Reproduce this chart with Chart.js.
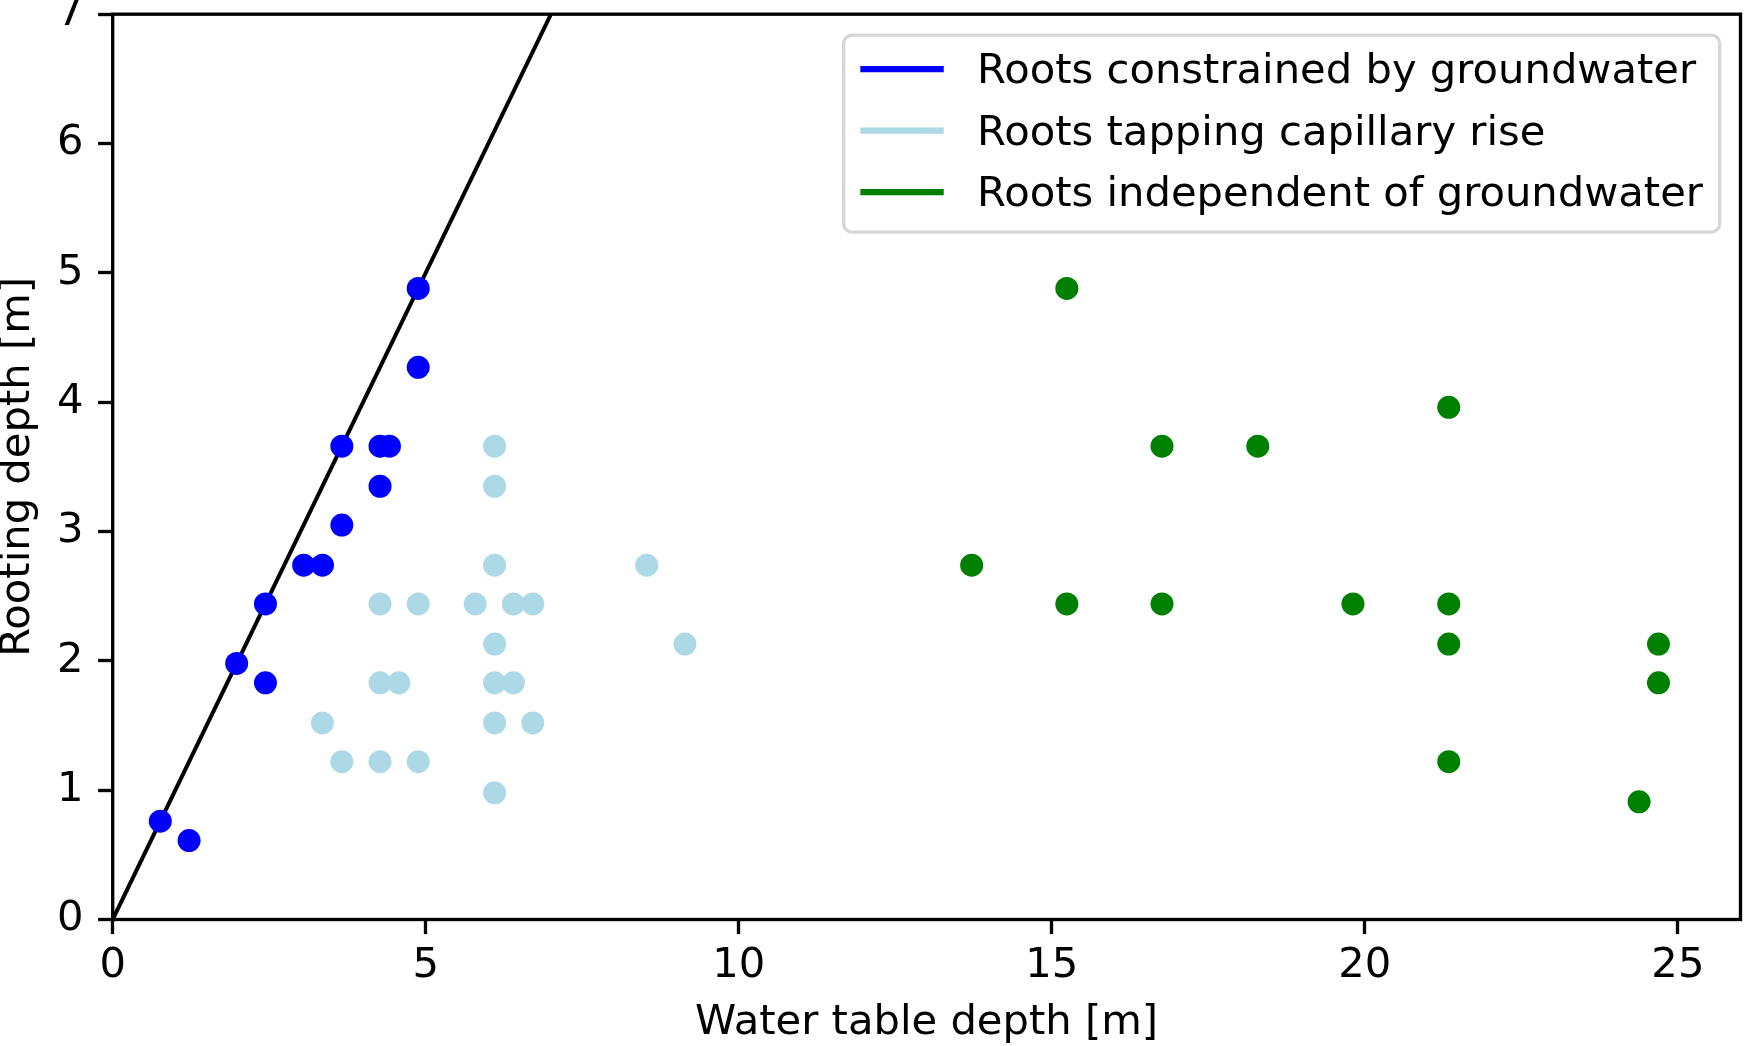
<!DOCTYPE html>
<html>
<head>
<meta charset="utf-8">
<script src="https://cdn.jsdelivr.net/npm/chart.js@4.4.1/dist/chart.umd.min.js"></script>
<style>
  html, body { margin: 0; padding: 0; background: #fff; overflow: hidden; }
  #wrap { width: 1744px; height: 1046px; overflow: hidden; }
  #roots-chart { display: block; }
</style>
</head>
<body>
<div id="wrap"><canvas id="roots-chart" width="1744" height="1046"></canvas></div>
<script>
// water table depth (x) vs rooting depth (y), both in metres
const constrainedX = [0.76, 1.22, 1.98, 2.44, 2.44, 3.05, 3.35, 3.66, 3.66, 4.27, 4.42, 4.27, 4.88, 4.88];
const constrainedY = [0.76, 0.61, 1.98, 2.44, 1.83, 2.74, 2.74, 3.05, 3.66, 3.66, 3.66, 3.35, 4.27, 4.88];

const capillaryX = [6.10, 6.10, 6.10, 8.53, 4.27, 4.88, 5.79, 6.40, 6.71, 6.10, 9.14,
  4.27, 4.57, 6.10, 6.40, 3.35, 6.10, 6.71, 3.66, 4.27, 4.88, 6.10];
const capillaryY = [3.66, 3.35, 2.74, 2.74, 2.44, 2.44, 2.44, 2.44, 2.44, 2.13, 2.13,
  1.83, 1.83, 1.83, 1.83, 1.52, 1.52, 1.52, 1.22, 1.22, 1.22, 0.98];

const independentX = [15.24, 21.34, 16.76, 18.29, 13.72, 15.24, 16.76, 19.81, 21.34, 21.34, 24.69, 24.69, 21.34, 24.38];
const independentY = [4.88, 3.96, 3.66, 3.66, 2.74, 2.44, 2.44, 2.44, 2.44, 2.13, 2.13, 1.83, 1.22, 0.91];

// 1:1 line (roots reaching the water table)
const oneToOneX = [0, 7];
const oneToOneY = [0, 7];

const xTicks = [0, 5, 10, 15, 20, 25];
const yTicks = [0, 1, 2, 3, 4, 5, 6, 7];

const seriesLabels = [
  'Roots constrained by groundwater',
  'Roots tapping capillary rise',
  'Roots independent of groundwater'
];
const seriesColors = ['#0000ff', '#add8e6', '#008000'];

const FS = 41.7;
const FONT = 'DejaVu Sans';

const toPoints = (xs, ys) => xs.map((x, i) => ({ x: x, y: ys[i] }));

// top + right spines, drawn over the markers like matplotlib does
const framePlugin = {
  id: 'frame',
  afterDatasetsDraw(chart) {
    const { ctx, chartArea: a } = chart;
    ctx.save();
    ctx.strokeStyle = '#000';
    ctx.lineWidth = 3.33;
    ctx.strokeRect(a.left, a.top, a.right - a.left, a.bottom - a.top);
    ctx.restore();
  }
};

// legend box in the upper right corner with line handles
const legendPlugin = {
  id: 'lineLegend',
  afterDraw(chart) {
    const { ctx, chartArea: a } = chart;
    ctx.save();
    ctx.font = FS + 'px "' + FONT + '"';
    const maxW = Math.max(...seriesLabels.map(t => ctx.measureText(t).width));
    const pad = 0.4 * FS, handleLen = 2 * FS, handlePad = 0.8 * FS;
    const rowH = 0.975 * FS, spacing = 0.5 * FS;
    const w = pad * 2 + handleLen + handlePad + maxW;
    const h = pad * 2 + rowH * seriesLabels.length + spacing * (seriesLabels.length - 1);
    const right = a.right - 0.5 * FS;
    const top = a.top + 0.5 * FS;
    const left = right - w;

    ctx.beginPath();
    ctx.roundRect(left, top, w, h, 0.2 * FS);
    ctx.fillStyle = 'rgba(255,255,255,0.8)';
    ctx.fill();
    ctx.lineWidth = 3.33;
    ctx.strokeStyle = 'rgba(204,204,204,0.8)';
    ctx.stroke();

    seriesLabels.forEach((label, i) => {
      const rowTop = top + pad + i * (rowH + spacing);
      const hy = rowTop + 0.415 * FS;
      ctx.beginPath();
      ctx.moveTo(left + pad, hy);
      ctx.lineTo(left + pad + handleLen, hy);
      ctx.strokeStyle = seriesColors[i];
      ctx.lineWidth = 6.25;
      ctx.stroke();
      ctx.fillStyle = '#000';
      ctx.textBaseline = 'alphabetic';
      ctx.textAlign = 'left';
      ctx.fillText(label, left + pad + handleLen + handlePad, rowTop + 0.76 * FS);
    });
    ctx.restore();
  }
};

const axisFont = { family: FONT, size: FS, lineHeight: 1 };
const tickGrid = {
  display: true,
  drawOnChartArea: false,
  drawTicks: true,
  tickLength: 14.6,
  tickWidth: 3.33,
  tickColor: '#000'
};

const scatterSet = (i, xs, ys) => ({
  label: seriesLabels[i],
  data: toPoints(xs, ys),
  backgroundColor: seriesColors[i],
  borderWidth: 0,
  pointRadius: 11.5,
  pointHoverRadius: 11.5,
  order: 1
});

new Chart(document.getElementById('roots-chart'), {
  type: 'scatter',
  data: {
    datasets: [
      scatterSet(0, constrainedX, constrainedY),
      scatterSet(1, capillaryX, capillaryY),
      scatterSet(2, independentX, independentY),
      {
        type: 'line',
        label: '1:1',
        data: toPoints(oneToOneX, oneToOneY),
        borderColor: '#000',
        borderWidth: 4,
        pointRadius: 0,
        fill: false,
        showLine: true,
        order: 5
      }
    ]
  },
  options: {
    responsive: false,
    animation: false,
    devicePixelRatio: 1,
    events: [],
    layout: { autoPadding: false, padding: { left: 0, right: 3.5, top: 14.2, bottom: 0 } },
    plugins: {
      legend: { display: false },
      tooltip: { enabled: false }
    },
    scales: {
      x: {
        type: 'linear',
        min: 0,
        max: 26,
        afterBuildTicks: s => { s.ticks = xTicks.map(v => ({ value: v })); },
        afterFit: s => { s.height = 126.5; s.paddingLeft = 0; s.paddingRight = 0; },
        grid: tickGrid,
        border: { display: false },
        ticks: { color: '#000', font: axisFont, padding: 11, maxRotation: 0, autoSkip: false },
        title: {
          display: true,
          text: 'Water table depth [m]',
          color: '#000',
          font: axisFont,
          padding: { top: 0, bottom: 1.5 }
        }
      },
      y: {
        type: 'linear',
        min: 0,
        max: 7,
        afterBuildTicks: s => { s.ticks = yTicks.map(v => ({ value: v })); },
        afterFit: s => { s.width = 112.7; s.paddingTop = 0; s.paddingBottom = 0; },
        grid: tickGrid,
        border: { display: false },
        ticks: { color: '#000', font: axisFont, padding: 14.6, autoSkip: false },
        title: {
          display: true,
          text: 'Rooting depth [m]',
          color: '#000',
          font: axisFont,
          padding: { top: -2.7, bottom: 0 }
        }
      }
    }
  },
  plugins: [framePlugin, legendPlugin]
});
</script>
</body>
</html>
